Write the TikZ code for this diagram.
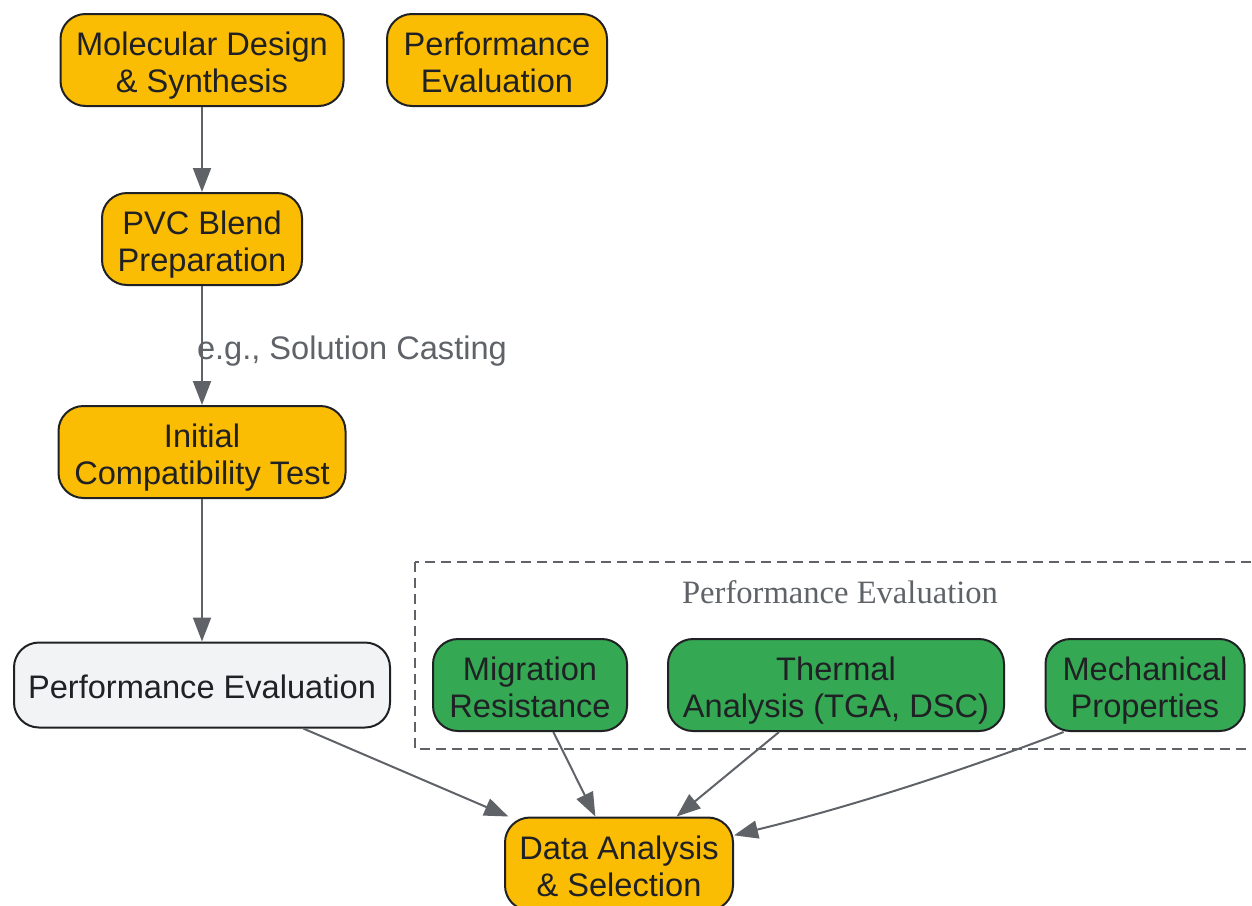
\documentclass[tikz,border=0pt]{standalone}
\usepackage{fontspec}
\setmainfont{Liberation Sans}
\newfontfamily\titleserif{Liberation Serif}
\usetikzlibrary{arrows.meta}

\definecolor{boxyellow}{HTML}{FBBC04}
\definecolor{boxgreen}{HTML}{34A853}
\definecolor{boxgrey}{HTML}{F1F3F4}
\definecolor{inkdark}{HTML}{202124}
\definecolor{linegrey}{HTML}{5F6368}

\tikzset{
  stage/.style={draw=inkdark, line width=1pt, rounded corners=12.5pt, text=inkdark,
    align=center, inner sep=0pt, minimum height=46pt,
    font=\fontsize{16.3}{18.5}\selectfont,
    execute at begin node={\rule{0pt}{#1}},
    execute at end node={\rule[-4.5pt]{0pt}{4.5pt}}},
  stage/.default=36.5pt,
  stageyellow/.style={stage, fill=boxyellow},
  stagegreen/.style={stage, fill=boxgreen},
  stagegrey/.style={stage=18pt, fill=boxgrey, minimum height=42.5pt},
  flow/.style={draw=linegrey, line width=1pt, -{Triangle[length=12pt, width=9pt]}},
  flowlabel/.style={text=linegrey, inner sep=0pt, font=\fontsize{16.3}{18.5}\selectfont},
}

\begin{document}
\begin{tikzpicture}[x=0.5pt, y=-0.5pt]
\useasboundingbox (0,0) rectangle (1252,905);

% Main column
\node[stageyellow, minimum width=141.5pt] (design) at (202,60) {Molecular Design\\\& Synthesis};
\node[stageyellow, minimum width=110pt] (perftop) at (497,60) {Performance\\Evaluation};
\node[stageyellow, minimum width=100pt] (blend) at (202,239) {PVC Blend\\Preparation};
\node[stageyellow, minimum width=143.5pt] (compat) at (202,452) {Initial\\Compatibility Test};
\node[stagegrey, minimum width=188pt] (perfeval) at (202,685) {Performance Evaluation};

% Evaluation group
\draw[linegrey, line width=1pt, dash pattern=on 5pt off 3pt] (415,562) rectangle (1270,749);
\node[text=linegrey, font=\titleserif\fontsize{16.3}{18.5}\selectfont] (grouptitle) at (840,592) {Performance Evaluation};
\node[stagegreen, minimum width=97pt] (migration) at (530,685) {Migration\\Resistance};
\node[stagegreen, minimum width=168pt] (thermal) at (836,685) {Thermal\\Analysis (TGA, DSC)};
\node[stagegreen, minimum width=99.5pt] (mechanical) at (1145,685) {Mechanical\\Properties};

\node[stageyellow, minimum width=114pt, minimum height=46.5pt] (select) at (619,864) {Data Analysis\\\& Selection};

% Connectors
\draw[flow] (design) -- (blend);
\draw[flow] (blend) -- node[flowlabel, anchor=west, xshift=-3pt, yshift=-3pt] (castlabel) {e.g., Solution Casting} (compat);
\draw[flow] (compat) -- (perfeval);
\draw[flow] (perfeval) -- (select);
\draw[flow] (migration) -- (select);
\draw[flow] (thermal) -- (select);
\draw[flow] (mechanical.210) .. controls +(-110,42) and +(110,-27) .. (select.14);
\end{tikzpicture}
\end{document}
